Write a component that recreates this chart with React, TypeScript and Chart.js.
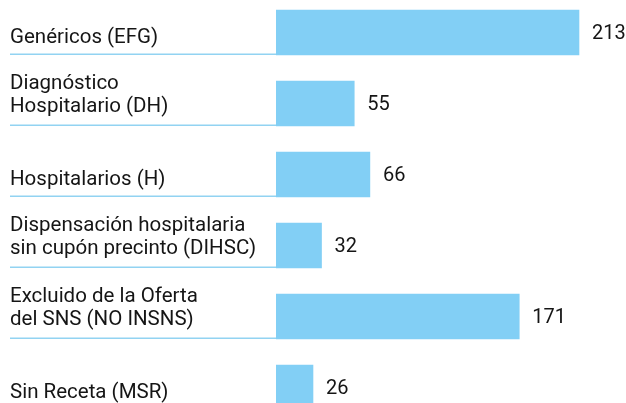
import React, { useEffect, useRef } from "react";
import { Chart, registerables } from "chart.js";

Chart.register(...registerables);

const categories: string[][] = [
  ["Genéricos (EFG)"],
  ["Diagnóstico", "Hospitalario (DH)"],
  ["Hospitalarios (H)"],
  ["Dispensación hospitalaria", "sin cupón precinto (DIHSC)"],
  ["Excluido de la Oferta", "del SNS (NO INSNS)"],
  ["Sin Receta (MSR)"],
];
const values: number[] = [213, 55, 66, 32, 171, 26];

const BAR_COLOR = "#82CFF5";
const LINE_COLOR = "#92D3F2";
const TEXT_COLOR = "#151515";
const LABEL_FONT = '20.5px Roboto, "Noto Sans", sans-serif';
const VALUE_FONT = '20px Roboto, "Noto Sans", sans-serif';

const labelPlugin = {
  id: "labelPlugin",
  afterDatasetsDraw(chart: any) {
    const ctx = chart.ctx;
    const meta = chart.getDatasetMeta(0);
    const area = chart.chartArea;
    ctx.save();
    ctx.fillStyle = TEXT_COLOR;
    meta.data.forEach((el: any, i: number) => {
      const p = el.getProps(["x", "y", "base", "height"], true);
      const bottom = p.y + p.height / 2;
      // underline
      ctx.strokeStyle = LINE_COLOR;
      ctx.lineWidth = 1.5;
      ctx.beginPath();
      ctx.moveTo(10, bottom - 0.75);
      ctx.lineTo(area.left, bottom - 0.75);
      ctx.stroke();
      // category label, bottom aligned
      const lines = categories[i];
      ctx.font = LABEL_FONT;
      ctx.textAlign = "left";
      ctx.textBaseline = "alphabetic";
      const lastBase = p.y + (lines.length > 1 ? 8 : 10);
      for (let k = lines.length - 1; k >= 0; k--) {
        const offset = (lines.length - 1 - k) * 23;
        ctx.fillText(lines[k], 10, lastBase - offset);
      }
      // value label
      ctx.font = VALUE_FONT;
      ctx.textBaseline = "middle";
      ctx.fillText(String(values[i]), p.x + 13, p.y + 1);
    });
    ctx.restore();
  },
};

export default function App() {
  const ref = useRef<HTMLCanvasElement | null>(null);
  useEffect(() => {
    if (!ref.current) return;
    const chart = new Chart(ref.current, {
      type: "bar",
      data: {
        labels: categories.map((c) => c.join(" ")),
        datasets: [
          {
            data: values,
            backgroundColor: BAR_COLOR,
            borderWidth: 0,
            barThickness: 45,
          },
        ],
      },
      options: {
        indexAxis: "y",
        animation: false,
        responsive: false,
        devicePixelRatio: 1,
        layout: { padding: { left: 276, right: 8.6, top: 0, bottom: 0 } },
        plugins: { legend: { display: false }, tooltip: { enabled: false } },
        scales: {
          x: { display: false, min: 0, max: 240 },
          y: { display: false, offset: true },
        },
      },
      plugins: [labelPlugin],
    });
    return () => chart.destroy();
  }, []);
  return (
    <div
      style={{
        position: "fixed",
        left: 0,
        top: 0,
        width: 626,
        height: 403,
        overflow: "hidden",
        background: "#fff",
      }}
    >
      <canvas
        ref={ref}
        width={626}
        height={426}
        style={{ position: "absolute", left: 0, top: -3, width: 626, height: 426 }}
      />
    </div>
  );
}
